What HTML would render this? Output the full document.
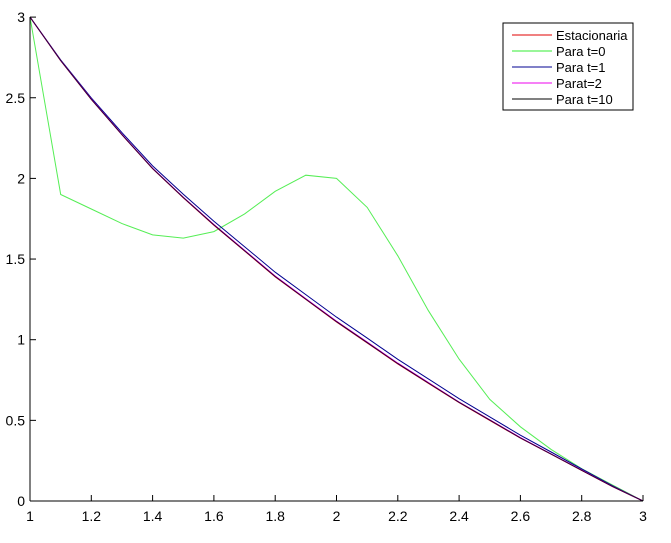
<!DOCTYPE html>
<html><head><style>body{margin:0;background:#fff}svg text{font-family:"Liberation Sans",sans-serif;font-size:14px}</style></head>
<body>
<svg id="s" width="671" height="538" xmlns="http://www.w3.org/2000/svg">
<rect width="671" height="538" fill="#fff"/>
<g id="g"></g>
<rect x="503" y="23" width="130" height="87" fill="#fff" stroke="#000" stroke-width="1"/>
<line x1="512" y1="35" x2="552" y2="35" stroke="#e00000"/><text x="556" y="40" style="font-size:13px">Estacionaria</text>
<line x1="512" y1="51" x2="552" y2="51" stroke="#33ee33"/><text x="556" y="56" style="font-size:13px">Para t=0</text>
<line x1="512" y1="67" x2="552" y2="67" stroke="#000090"/><text x="556" y="72" style="font-size:13px">Para t=1</text>
<line x1="512" y1="83" x2="552" y2="83" stroke="#ee00ee"/><text x="556" y="88" style="font-size:13px">Parat=2</text>
<line x1="512" y1="99" x2="552" y2="99" stroke="#000"/><text x="556" y="104" style="font-size:13px">Para t=10</text>
</svg>
<script>
var X=x=>30+(x-1)*306.5, Y=y=>501-y*161.3, g=document.getElementById('g'), h='';
var st=[3,2.73,2.49,2.27,2.06,1.88,1.71,1.55,1.39,1.25,1.11,0.98,0.85,0.73,0.61,0.5,0.39,0.29,0.19,0.09,0];
var gr=[3,1.9,1.81,1.72,1.65,1.63,1.67,1.78,1.92,2.02,2.0,1.82,1.52,1.18,0.88,0.63,0.46,0.32,0.2,0.1,0];
function pl(a,c,d){var p=a.map((v,i)=>X(1+i*0.1).toFixed(1)+','+Y(v+(d?d*Math.sin(Math.PI*i/20):0)).toFixed(1)).join(' ');h+='<polyline points="'+p+'" fill="none" stroke="'+c+'" stroke-width="1"/>';}
pl(gr,'#55ee55');pl(st,'#000090',0.03);pl(st,'#e00000');pl(st,'#ee00ee',0.005);pl(st,'#300040',0.002);
h+='<line x1="30" y1="17" x2="30" y2="501" stroke="#000"/><line x1="30" y1="501" x2="643" y2="501" stroke="#000"/>';
for(var i=0;i<=10;i++){var x=X(1+i*0.2);h+='<line x1="'+x+'" y1="501" x2="'+x+'" y2="495" stroke="#000"/>';h+='<text x="'+x+'" y="521" text-anchor="middle">'+(+(1+i*0.2).toFixed(1))+'</text>';}
for(var i=0;i<=6;i++){var y=Y(i*0.5);h+='<line x1="30" y1="'+y+'" x2="36" y2="'+y+'" stroke="#000"/>';h+='<text x="25" y="'+(y+5)+'" text-anchor="end">'+(i*0.5)+'</text>';}
g.innerHTML=h;
</script>
</body></html>
